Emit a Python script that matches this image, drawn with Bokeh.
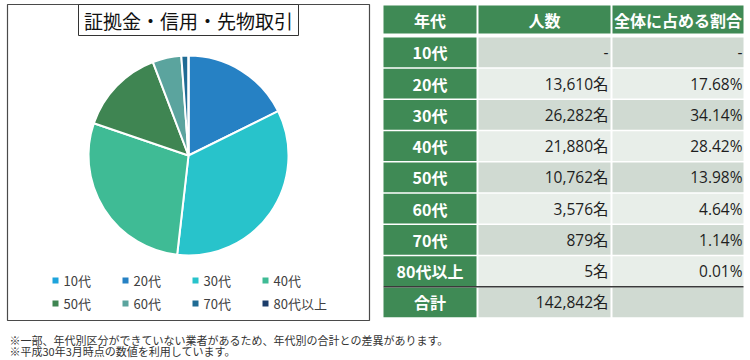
import math
from bokeh.plotting import figure
from bokeh.models import Range1d, ColumnDataSource
from bokeh.core.properties import value
from bokeh.embed import file_html
from bokeh.resources import INLINE

# ---------------- data ----------------
age_labels = ["10代", "20代", "30代", "40代", "50代", "60代", "70代", "80代以上"]
counts = [0, 13610, 26282, 21880, 10762, 3576, 879, 5]
percents = [None, 17.68, 34.14, 28.42, 13.98, 4.64, 1.14, 0.01]
total_label = "合計"
total_count = 142842
header_labels = ["年代", "人数", "全体に占める割合"]
slice_colors = ["#1ea4dc", "#2681c4", "#28c3cb", "#3fbb95", "#3f8552", "#5ba49e", "#1f6b94", "#1c3d6b"]
chart_title = "証拠金・信用・先物取引"
footnotes = ["※一部、年代別区分ができていない業者があるため、年代別の合計との差異があります。",
             "※平成30年3月時点の数値を利用しています。"]

# ---------------- layout ----------------
FONT = value("Noto Sans CJK JP")
NUMFONT = value("Open Sans, Noto Sans CJK JP")
W, H = 750, 360


def Y(y):
    return H - y


p = figure(width=W, height=H, x_range=Range1d(0, W), y_range=Range1d(0, H),
           output_backend="svg", toolbar_location=None, min_border=0)
p.axis.visible = False
p.grid.visible = False
p.outline_line_color = None
p.background_fill_color = "white"
p.border_fill_color = "white"

# chart frame
p.quad(left=[7], right=[369], top=[Y(4)], bottom=[Y(320)], fill_color=None,
       line_color="#4a4a4a", line_width=1.2)
# title box
p.quad(left=[78], right=[298], top=[Y(4)], bottom=[Y(35)], fill_color="white",
       line_color="#333333", line_width=1)
p.text(x=[188], y=[Y(20)], text=[chart_title], text_font=FONT, text_font_size="19px",
       text_align="center", text_baseline="middle", text_color="#111111")

# pie
tot = sum(counts)
starts, ends, cols = [], [], []
cum = 0.0
for c, col in zip(counts, slice_colors):
    if c <= 0:
        continue
    a0 = math.pi / 2 - 2 * math.pi * cum / tot
    cum += c
    a1 = math.pi / 2 - 2 * math.pi * cum / tot
    starts.append(a0)
    ends.append(a1)
    cols.append(col)
pie_src = ColumnDataSource(dict(start=starts, end=ends, color=cols))
p.wedge(x=188, y=Y(155), radius=100, start_angle="start", end_angle="end", direction="clock",
        fill_color="color", line_color="white", line_width=2, source=pie_src)

# legend
lx, ly = [], []
for i, lab in enumerate(age_labels):
    col, row = i % 4, i // 4
    lx.append(55 + col * 70)
    ly.append(Y(280 + row * 23))
p.scatter(x=lx, y=ly, marker="square", size=6, fill_color=slice_colors, line_color=None)
p.text(x=[x + 8 for x in lx], y=ly, text=age_labels, text_font=FONT, text_font_size="13px",
       text_align="left", text_baseline="middle", text_color="#404040")

# table
GREEN = "#3f8a55"
DARK = "#d0dad2"
LIGHT = "#e8eee9"
col_l = [383, 478, 612]
col_r = [476, 610, 743]

# header
p.quad(left=col_l, right=col_r, top=[Y(5)] * 3, bottom=[Y(33)] * 3, fill_color=GREEN, line_color=None)
p.text(x=[(l + r) / 2 for l, r in zip(col_l, col_r)], y=[Y(19)] * 3, text=header_labels,
       text_font=FONT, text_font_size="16px", text_font_style="bold", text_color="white",
       text_align="center", text_baseline="middle")

row_labels = age_labels + [total_label]
c1 = [f"{c:,}名" if c else "-" for c in counts] + [f"{total_count:,}名"]
c2 = [f"{v:.2f}%" if v is not None else "-" for v in percents] + [""]
RH = 31.25
ql, qr, qt, qb, qc = [], [], [], [], []
ty = []
for i in range(len(row_labels)):
    top = 37 + i * RH
    bot = top + RH - 1.5
    ty.append(Y((top + bot) / 2))
    shade = DARK if i % 2 == 0 else LIGHT
    for j in range(3):
        ql.append(col_l[j]); qr.append(col_r[j]); qt.append(Y(top)); qb.append(Y(bot))
        qc.append(GREEN if j == 0 else shade)
p.quad(left=ql, right=qr, top=qt, bottom=qb, fill_color=qc, line_color=None)
sep_y = Y(37 + 8 * RH - 0.75)
p.segment(x0=[383], y0=[sep_y], x1=[743], y1=[sep_y], line_color="#3a3a3a", line_width=1.5)

p.text(x=[(col_l[0] + col_r[0]) / 2] * len(row_labels), y=ty, text=row_labels, text_font=FONT,
       text_font_size="16px", text_font_style="bold", text_color="white",
       text_align="center", text_baseline="middle")
p.text(x=[col_r[1] - 2] * len(c1), y=ty, text=c1, text_font=NUMFONT, text_font_size="15.5px",
       text_color="#1e1e1e", text_align="right", text_baseline="middle")
p.text(x=[col_r[2] - 1] * len(c2), y=ty, text=c2, text_font=NUMFONT, text_font_size="15.5px",
       text_color="#1e1e1e", text_align="right", text_baseline="middle")

# footnotes
p.text(x=[9, 9], y=[Y(339), Y(350)], text=footnotes, text_font=FONT, text_font_size="11px",
       text_color="#333333", text_align="left", text_baseline="middle")

open("out.html", "w").write(file_html(p, INLINE))
